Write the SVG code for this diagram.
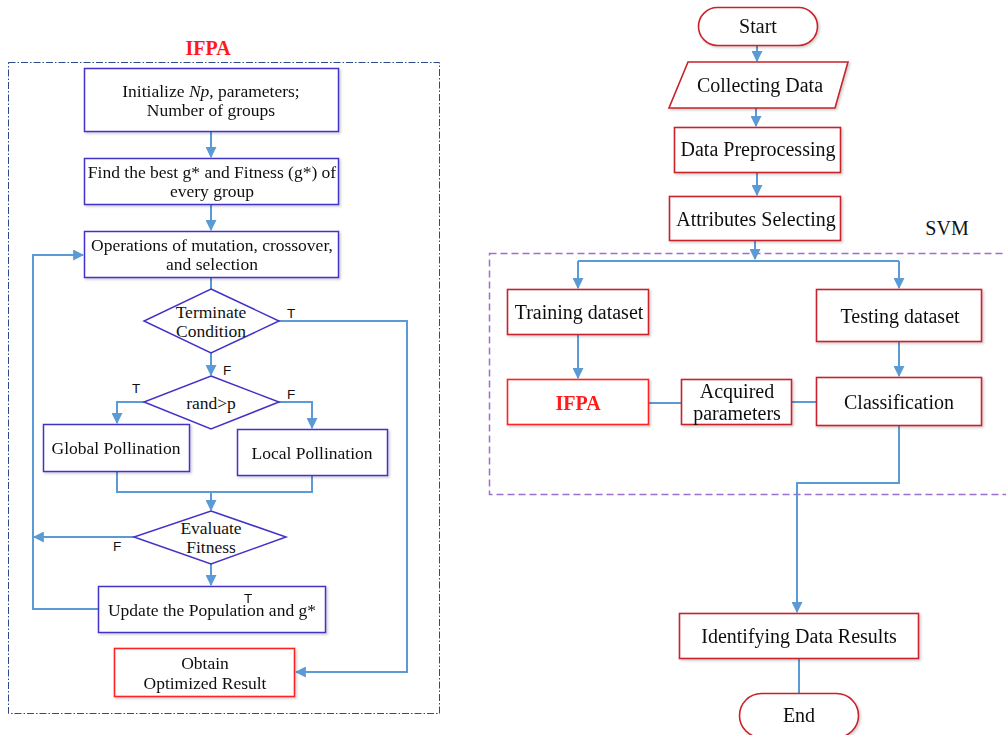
<svg xmlns="http://www.w3.org/2000/svg" width="1006" height="735" viewBox="0 0 1006 735">
<style>
.bg{fill:#fff}
.nb{fill:#fff;stroke:#4332c8;stroke-width:1.5}
.nr{fill:#fff;stroke:#c8222a;stroke-width:1.6}
.nbr{fill:#fff;stroke:#ff2020;stroke-width:1.6}
.t{font-family:"Liberation Serif","Times New Roman",serif;font-size:17.5px;fill:#111;text-anchor:middle}
.tr{font-family:"Liberation Serif","Times New Roman",serif;font-size:20px;fill:#111;text-anchor:middle}
.lb{font-family:"Liberation Sans",Arial,sans-serif;font-size:13.5px;fill:#111;text-anchor:middle}
.red{font-family:"Liberation Serif","Times New Roman",serif;font-weight:bold;font-size:20px;fill:#ff1a1a;text-anchor:middle}
.c{fill:none;stroke:#5b9bd5;stroke-width:2}
.ca{fill:none;stroke:#5b9bd5;stroke-width:2;marker-end:url(#ah)}
</style>
<defs>
<marker id="ah" viewBox="0 0 10 10" refX="9" refY="5" markerWidth="5.5" markerHeight="5.5" orient="auto" markerUnits="strokeWidth">
<path d="M0,0 L10,5 L0,10 z" fill="#5b9bd5"/>
</marker>
<filter id="sh" x="-10%" y="-10%" width="125%" height="130%">
<feDropShadow dx="1.5" dy="1.5" stdDeviation="1" flood-color="#000" flood-opacity="0.2"/>
</filter>
</defs>
<rect class="bg" x="0" y="0" width="1006" height="735"/>

<!-- containers -->
<g id="ifpa-container">
<text class="red" x="208" y="55">IFPA</text>
<rect x="8.5" y="62.5" width="431" height="651" fill="none" stroke="#2e4a8a" stroke-width="1" stroke-dasharray="7 2 1.5 2"/>
</g>
<g id="svm-container">
<text class="tr" x="947" y="235">SVM</text>
<rect x="489.5" y="253.5" width="530" height="241" fill="none" stroke="#9b6fd0" stroke-width="1.5" stroke-dasharray="7 4"/>
</g>

<!-- connectors -->
<g id="connectors">
<line class="ca" x1="211" y1="132" x2="211" y2="157"/>
<line class="ca" x1="211" y1="205" x2="211" y2="230"/>
<line class="c" x1="211" y1="278" x2="211" y2="289"/>
<polyline class="ca" points="279,321 407,321 407,672 296,672"/>
<line class="ca" x1="211" y1="353" x2="211" y2="375"/>
<polyline class="ca" points="144,402 117,402 117,423"/>
<polyline class="ca" points="279,402 312,402 312,428"/>
<polyline class="c" points="117,472 117,492 312,492 312,476"/>
<line class="ca" x1="211" y1="492" x2="211" y2="510"/>
<line class="ca" x1="134" y1="537" x2="34" y2="537"/>
<line class="ca" x1="211" y1="564" x2="211" y2="585"/>
<polyline class="ca" points="98,609 33,609 33,255 83,255"/>

<line class="ca" x1="757" y1="45" x2="757" y2="61"/>
<line class="ca" x1="756" y1="108" x2="756" y2="126"/>
<line class="ca" x1="757" y1="172" x2="757" y2="195"/>
<line class="ca" x1="755" y1="241" x2="755" y2="259"/>
<polyline class="c" points="578,261 899,261"/>
<line class="ca" x1="578" y1="261" x2="578" y2="288"/>
<line class="ca" x1="899" y1="261" x2="899" y2="288"/>
<line class="ca" x1="578" y1="335" x2="578" y2="378"/>
<line class="ca" x1="899" y1="342" x2="899" y2="376"/>
<line class="c" x1="649" y1="403" x2="681" y2="403"/>
<line class="c" x1="792" y1="402" x2="816" y2="402"/>
<polyline class="ca" points="899,426 899,483 797,483 797,612"/>
<line class="c" x1="799" y1="659" x2="799" y2="693"/>

<text class="lb" x="291" y="318">T</text>
<text class="lb" x="227" y="375">F</text>
<text class="lb" x="136" y="393">T</text>
<text class="lb" x="291" y="399">F</text>
<text class="lb" x="117" y="551">F</text>
</g>

<!-- left nodes -->
<g id="init" filter="url(#sh)">
<rect class="nb" x="84.5" y="68.5" width="254" height="63"/>
<text class="t" x="211" y="97">Initialize <tspan font-style="italic">Np</tspan>, parameters;</text>
<text class="t" x="211" y="116">Number of groups</text>
</g>
<g id="findbest" filter="url(#sh)">
<rect class="nb" x="84.5" y="158.5" width="254" height="46"/>
<text class="t" x="212" y="178">Find the best g* and Fitness (g*) of</text>
<text class="t" x="212" y="197">every group</text>
</g>
<g id="operations" filter="url(#sh)">
<rect class="nb" x="84.5" y="231.5" width="254" height="46"/>
<text class="t" x="212" y="251">Operations of mutation, crossover,</text>
<text class="t" x="212" y="270">and selection</text>
</g>
<g id="terminate">
<polygon class="nb" points="211,289 279,321 211,353 144,321"/>
<text class="t" x="211" y="318">Terminate</text>
<text class="t" x="211" y="337">Condition</text>
</g>
<g id="randp">
<polygon class="nb" points="211,376 279,402 211,429 144,402"/>
<text class="t" x="211" y="409">rand&gt;p</text>
</g>
<g id="global" filter="url(#sh)">
<rect class="nb" x="43.5" y="424.5" width="146" height="47"/>
<text class="t" x="116" y="454">Global Pollination</text>
</g>
<g id="local" filter="url(#sh)">
<rect class="nb" x="237.5" y="429.5" width="150" height="46"/>
<text class="t" x="312" y="459">Local Pollination</text>
</g>
<g id="evaluate">
<polygon class="nb" points="211,511 286,537 211,564 134,537"/>
<text class="t" x="211" y="534">Evaluate</text>
<text class="t" x="211" y="553">Fitness</text>
</g>
<g id="update" filter="url(#sh)">
<rect class="nb" x="98.5" y="586.5" width="227" height="46"/>
<text class="t" x="212" y="616">Update the Population and g*</text>
<text class="lb" x="248" y="603">T</text>
</g>
<g id="obtain" filter="url(#sh)">
<rect class="nbr" x="114.5" y="648.5" width="180" height="48"/>
<text class="t" x="205" y="669">Obtain</text>
<text class="t" x="205" y="689">Optimized Result</text>
</g>

<!-- right nodes -->
<g id="start" filter="url(#sh)">
<rect class="nr" x="698.5" y="7.5" width="119" height="38" rx="19" ry="19"/>
<text class="tr" x="758" y="33">Start</text>
</g>
<g id="collecting" filter="url(#sh)">
<polygon class="nr" points="688,62 848,62 835,108 669,108"/>
<text class="tr" x="760" y="92">Collecting Data</text>
</g>
<g id="preprocessing" filter="url(#sh)">
<rect class="nr" x="674.5" y="127.5" width="166" height="45"/>
<text class="tr" x="758" y="156">Data Preprocessing</text>
</g>
<g id="attributes" filter="url(#sh)">
<rect class="nr" x="669.5" y="196.5" width="171" height="44"/>
<text class="tr" x="756" y="226">Attributes Selecting</text>
</g>
<g id="training" filter="url(#sh)">
<rect class="nr" x="507.5" y="289.5" width="141" height="45"/>
<text class="tr" x="579" y="319">Training dataset</text>
</g>
<g id="testing" filter="url(#sh)">
<rect class="nr" x="816.5" y="289.5" width="165" height="52"/>
<text class="tr" x="900" y="323">Testing dataset</text>
</g>
<g id="ifpa" filter="url(#sh)">
<rect class="nbr" x="507.5" y="379.5" width="141" height="45"/>
<text class="red" x="578" y="410">IFPA</text>
</g>
<g id="acquired" filter="url(#sh)">
<rect class="nr" x="681.5" y="379.5" width="110" height="45"/>
<text class="tr" x="737" y="398">Acquired</text>
<text class="tr" x="737" y="420">parameters</text>
</g>
<g id="classification" filter="url(#sh)">
<rect class="nr" x="816.5" y="377.5" width="165" height="48"/>
<text class="tr" x="899" y="409">Classification</text>
</g>
<g id="identifying" filter="url(#sh)">
<rect class="nr" x="679.5" y="613.5" width="239" height="45"/>
<text class="tr" x="799" y="643">Identifying Data Results</text>
</g>
<g id="end" filter="url(#sh)">
<rect class="nr" x="739.5" y="693.5" width="119" height="44" rx="22" ry="22"/>
<text class="tr" x="799" y="722">End</text>
</g>
</svg>
